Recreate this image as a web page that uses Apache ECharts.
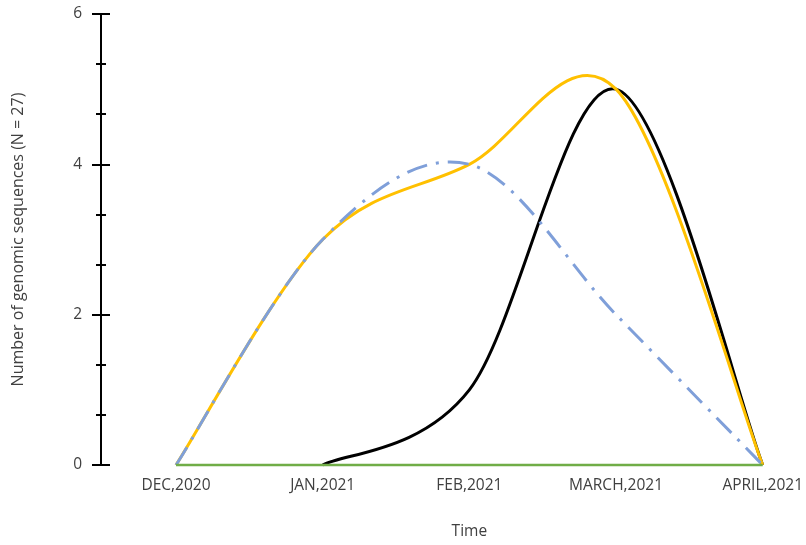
<!DOCTYPE html>
<html><head><meta charset="utf-8">
<script src="https://cdn.jsdelivr.net/npm/echarts@6/dist/echarts.min.js"></script>
<style>html,body{margin:0;padding:0;background:#fff}#c{width:806px;height:545px}</style>
</head><body><div id="c"></div>
<script>
const categories = ['DEC,2020','JAN,2021','FEB,2021','MARCH,2021','APRIL,2021'];
const seriesYellow = [0, 3, 4, 5, 0];
const seriesBlue = [0, 3, 4, 2, 0];
const seriesBlack = [null, 0, 1, 5, 0];
const seriesGreen = [0, 0, 0, 0, 0];
const yTicks = {min: 0, max: 6, interval: 2};

const font = '"Open Sans", Lato, sans-serif';
const txt = '#404040';
const chart = echarts.init(document.getElementById('c'));

// Excel-like (Catmull-Rom) smoothed line drawn through the chart's own axes
function smoothLine(values, style, z, smooth) {
  return {
    type: 'custom', z: z, silent: true,
    data: [[0, 0]],
    renderItem: function (params, api) {
      const pts = values.map((v, i) => v == null ? null : api.coord([i, v]));
      let d = '';
      let seg = [];
      const flush = () => {
        if (seg.length < 2) { seg = []; return; }
        d += 'M' + seg[0][0] + ' ' + seg[0][1];
        for (let i = 0; i < seg.length - 1; i++) {
          const p0 = seg[Math.max(i - 1, 0)], p1 = seg[i], p2 = seg[i + 1], p3 = seg[Math.min(i + 2, seg.length - 1)];
          if (!smooth) { d += 'L' + p2[0] + ' ' + p2[1]; continue; }
          const c1x = p1[0] + (p2[0] - p0[0]) / 6, c1y = p1[1] + (p2[1] - p0[1]) / 6;
          const c2x = p2[0] - (p3[0] - p1[0]) / 6, c2y = p2[1] - (p3[1] - p1[1]) / 6;
          d += 'C' + c1x + ' ' + c1y + ' ' + c2x + ' ' + c2y + ' ' + p2[0] + ' ' + p2[1];
        }
        seg = [];
      };
      pts.forEach(p => { if (p) seg.push(p); else flush(); });
      flush();
      return {
        type: 'path',
        shape: {pathData: d},
        style: Object.assign({fill: null, lineJoin: 'round'}, style)
      };
    }
  };
}

const yBase = {
  type: 'value', min: yTicks.min, max: yTicks.max, interval: yTicks.interval,
  offset: 75, position: 'left',
  splitLine: {show: false},
  axisLine: {show: true, lineStyle: {color: '#000', width: 2}},
  minorTick: {show: true, splitNumber: 3, length: 5, lineStyle: {color: '#000', width: 2}},
  minorSplitLine: {show: false}
};
chart.setOption({
  animation: false,
  grid: {left: 176, right: 43, top: 14, bottom: 79, containLabel: false},
  xAxis: {
    type: 'category', data: categories, boundaryGap: false,
    axisLine: {show: false}, axisTick: {show: false},
    axisLabel: {color: txt, fontFamily: font, fontSize: 15.5, margin: 13},
    name: 'Time', nameLocation: 'middle', nameGap: 59,
    nameTextStyle: {color: txt, fontFamily: font, fontSize: 15.5}
  },
  yAxis: [
    Object.assign({}, yBase, {
      axisTick: {show: true, inside: false, length: 9, lineStyle: {color: '#000', width: 2}},
      axisLabel: {color: txt, fontFamily: font, fontSize: 15.5, margin: 19},
      name: 'Number of genomic sequences (N = 27)', nameLocation: 'middle', nameGap: 75,
      nameTextStyle: {color: txt, fontFamily: font, fontSize: 16}
    }),
    Object.assign({}, yBase, {
      axisTick: {show: true, inside: true, length: 9, lineStyle: {color: '#000', width: 2}},
      axisLabel: {show: false}
    })
  ],
  series: [
    smoothLine(seriesBlack, {stroke: '#000000', lineWidth: 3}, 2, true),
    smoothLine(seriesYellow, {stroke: '#FFC000', lineWidth: 3}, 3, true),
    smoothLine(seriesBlue, {stroke: '#7F9FD9', lineWidth: 3, lineDash: [21, 9, 3, 9]}, 4, true),
    smoothLine(seriesGreen, {stroke: '#70AD47', lineWidth: 2.5}, 5, false)
  ]
});
</script></body></html>
